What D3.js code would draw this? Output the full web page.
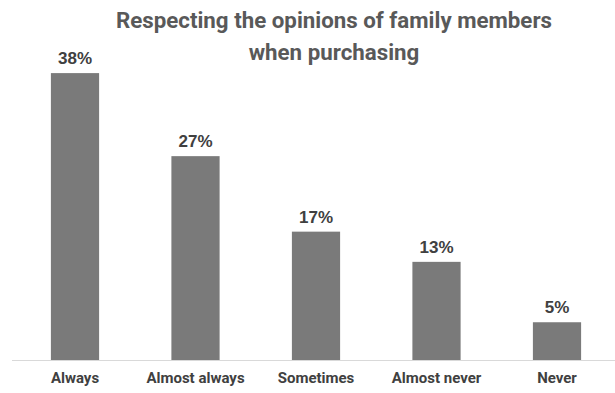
<!DOCTYPE html>
<html>
<head>
<meta charset="utf-8">
<script src="https://cdn.jsdelivr.net/npm/d3@7"></script>
<style>
  body { margin: 0; background: #fff; }
  .title { font-family: Roboto, sans-serif; font-weight: bold; font-size: 22.3px; fill: #595959; }
  .cat { font-family: Roboto, sans-serif; font-weight: bold; font-size: 15px; fill: #404040; }
  .val { font-family: "Liberation Sans", Arial, sans-serif; font-weight: bold; font-size: 17px; fill: #404040; }
</style>
</head>
<body>
<div class="chart"></div>
<script>
// data
const categories = ["Always", "Almost always", "Sometimes", "Almost never", "Never"];
const values = [38, 27, 17, 13, 5];
const titleLines = ["Respecting the opinions of family members", "when purchasing"];

const width = 615;
const height = 393;

const svg = d3.select('.chart').append('svg')
    .attr('width', width)
    .attr('height', height);

// scales
const xScale = d3.scaleBand()
    .domain(categories)
    .range([14.75, 617.25])
    .paddingInner(0.6)
    .paddingOuter(0.3);

const yScale = d3.scaleLinear()
    .domain([0, 40])
    .range([360, 58]);

// title
svg.append('text')
    .classed('title', true)
    .attr('text-anchor', 'middle')
    .selectAll('tspan')
    .data(titleLines)
    .join('tspan')
    .attr('x', 334)
    .attr('y', (d, i) => 28 + i * 32)
    .text(d => d);

// bars
svg.selectAll('rect.bar')
    .data(values)
    .join('rect')
    .classed('bar', true)
    .attr('x', (d, i) => xScale(categories[i]))
    .attr('y', d => yScale(d))
    .attr('width', xScale.bandwidth())
    .attr('height', d => yScale(0) - yScale(d))
    .attr('fill', '#7a7a7a');

// baseline
svg.append('line')
    .attr('x1', 12).attr('x2', width)
    .attr('y1', yScale(0) + 0.5).attr('y2', yScale(0) + 0.5)
    .attr('stroke', '#d9d9d9')
    .attr('stroke-width', 1);

// value labels
svg.selectAll('text.val')
    .data(values)
    .join('text')
    .classed('val', true)
    .attr('text-anchor', 'middle')
    .attr('x', (d, i) => xScale(categories[i]) + xScale.bandwidth() / 2)
    .attr('y', d => yScale(d) - 9)
    .text(d => d + '%');

// x axis labels
const xAxis = d3.axisBottom(xScale).tickSize(0).tickPadding(12);
const xAxis_group = svg.append('g')
    .attr('transform', `translate(0,${yScale(0)})`)
    .call(xAxis);
xAxis_group.select('.domain').remove();
xAxis_group.selectAll('text')
    .attr('class', 'cat')
    .attr('dy', '0.71em')
    .attr('font-family', null)
    .attr('font-size', null);
xAxis_group.attr('font-family', null).attr('font-size', null);
</script>
</body>
</html>
